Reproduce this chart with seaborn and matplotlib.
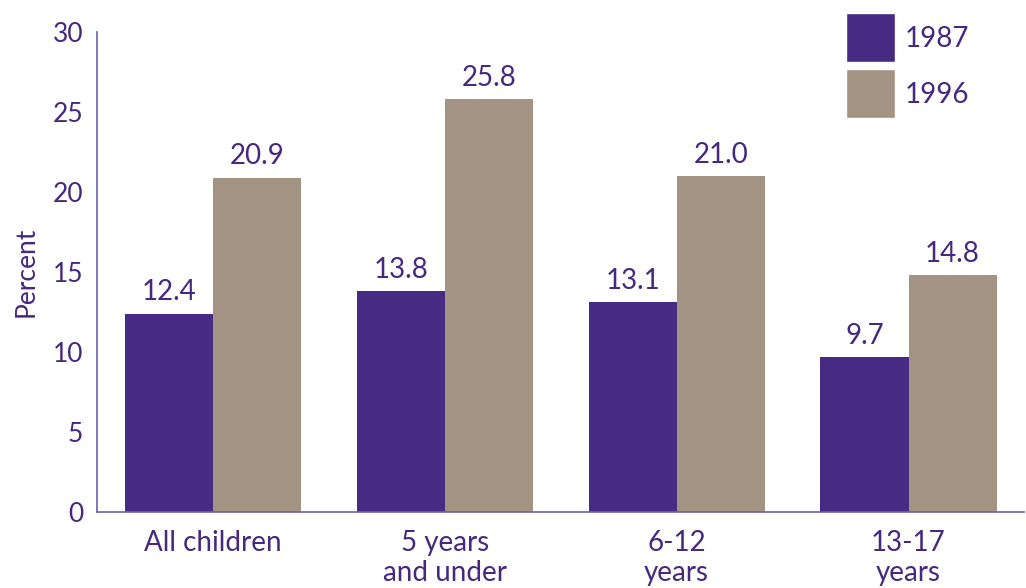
import matplotlib
matplotlib.use("Agg")
import matplotlib.pyplot as plt
import seaborn as sns
import pandas as pd
from matplotlib.patches import Patch

categories = ["All children", "5 years\nand under", "6-12\nyears", "13-17\nyears"]
years = ["1987", "1996"]
values_1987 = [12.4, 13.8, 13.1, 9.7]
values_1996 = [20.9, 25.8, 21.0, 14.8]
yticks = [0, 5, 10, 15, 20, 25, 30]

purple = "#472a84"
tan = "#a39382"
text_c = "#46287f"
spine_c = "#6f5fa8"

df = pd.DataFrame({
    "category": categories * 2,
    "year": [years[0]] * 4 + [years[1]] * 4,
    "value": values_1987 + values_1996,
})

sns.set_theme(style="white")
plt.rcParams['font.family'] = ['Lato', 'DejaVu Sans']

fig = plt.figure(figsize=(10.26, 5.88), dpi=100)
ax = fig.add_axes([0.0945, 0.129, 0.904, 0.8166])

sns.barplot(data=df, x="category", y="value", hue="year", order=categories,
            hue_order=years, palette=[purple, tan], width=0.76, saturation=1,
            linewidth=0, edgecolor="none", ax=ax, legend=False)

for cont in ax.containers:
    ax.bar_label(cont, fmt="%.1f", padding=6, fontsize=20, color=text_c)

ax.set_ylim(0, 30)
ax.set_yticks(yticks)
ax.set_xlim(-0.5, 3.5)
ax.tick_params(axis="both", length=0, labelsize=19, labelcolor=text_c)
ax.tick_params(axis="x", pad=13, labelsize=20)
ax.tick_params(axis="y", pad=10)
ax.set_xlabel("")
ax.set_ylabel("Percent", fontsize=19, color=text_c, labelpad=10)
for s in ["top", "right"]:
    ax.spines[s].set_visible(False)
for s in ["left", "bottom"]:
    ax.spines[s].set_color(spine_c)
    ax.spines[s].set_linewidth(1.2)
for lbl in ax.get_xticklabels():
    lbl.set_linespacing(1.2)

handles = [Patch(facecolor=purple), Patch(facecolor=tan)]
ax.legend(handles, years, loc="upper right", bbox_to_anchor=(0.964, 1.085),
          frameon=False, fontsize=20, labelcolor=text_c, handlelength=1.76,
          handleheight=2.34, handletextpad=0.35, labelspacing=0.25,
          borderpad=0.3)

fig.savefig("out.png", dpi=100)
